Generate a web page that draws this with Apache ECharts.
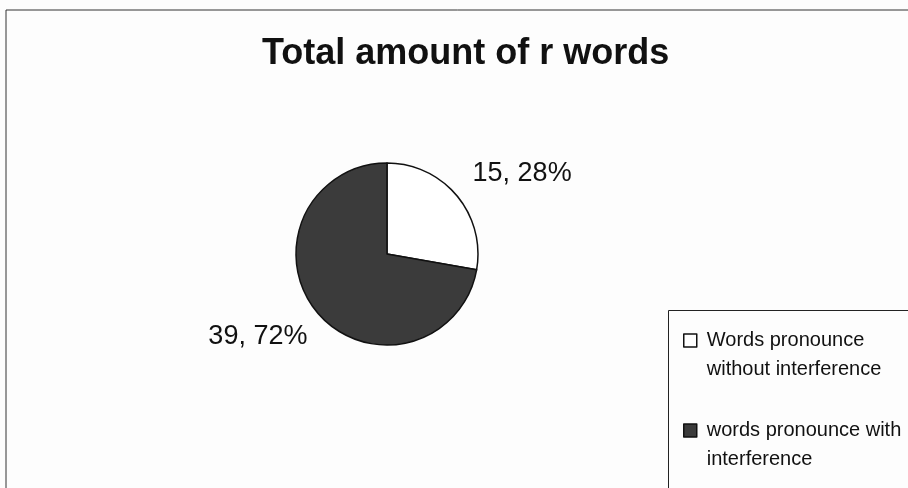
<!DOCTYPE html>
<html>
<head>
<meta charset="utf-8">
<script src="https://cdn.jsdelivr.net/npm/echarts@6/dist/echarts.min.js"></script>
<style>
  html, body { margin: 0; padding: 0; background: #fdfdfd; }
  #chart { width: 908px; height: 488px; }
</style>
</head>
<body>
<div id="chart"></div>
<script>
var categories = ['Words pronounce\nwithout interference', 'words pronounce with\ninterference'];
var values = [15, 39];
var colors = ['#ffffff', '#3b3b3b'];

var myChart = echarts.init(document.getElementById('chart'));

// nudges so the labels sit where the reference has them
var labelShift = [[-14, -8], [20, 10]];

var pieData = categories.map(function (name, i) {
    return {
        name: name,
        value: values[i],
        itemStyle: { color: colors[i] }
    };
});

myChart.setOption({
    backgroundColor: '#fdfdfd',
    animation: false,
    title: {
        text: 'Total amount of r words',
        left: 257,
        top: 31,
        textStyle: {
            fontFamily: 'Liberation Sans',
            fontSize: 36,
            fontWeight: 'bold',
            color: '#111'
        }
    },
    legend: {
        orient: 'vertical',
        left: 683,
        top: 297,
        padding: 0,
        itemGap: 3,
        itemWidth: 13,
        itemHeight: 13,
        icon: 'rect',
        data: categories,
        // leading blank line puts the first text line level with the icon
        formatter: function (name) { return '\n' + name; },
        textStyle: {
            fontFamily: 'Liberation Sans',
            fontSize: 20,
            lineHeight: 29,
            color: '#111',
            padding: [0, 0, 0, 5]
        },
        itemStyle: { borderColor: '#111', borderWidth: 1.5 }
    },
    graphic: [{
        type: 'rect',
        shape: { x: 6, y: 10, width: 920, height: 486 },
        style: { fill: 'none', stroke: '#333', lineWidth: 1 },
        silent: true,
        z: -1
    }, {
        type: 'rect',
        shape: { x: 668.5, y: 310.5, width: 260, height: 200 },
        style: { fill: '#fdfdfd', stroke: '#222', lineWidth: 1 },
        silent: true,
        z: -1
    }],
    series: [{
        type: 'pie',
        center: [387, 254],
        radius: 91,
        startAngle: 90,
        clockwise: true,
        data: pieData,
        itemStyle: { borderColor: '#111', borderWidth: 1.5 },
        label: {
            show: true,
            position: 'outside',
            formatter: function (p) { return p.value + ', ' + Math.round(p.percent) + '%'; },
            fontFamily: 'Liberation Sans',
            fontSize: 27,
            color: '#111'
        },
        labelLine: { show: false, length: 22, length2: 8 },
        labelLayout: function (params) {
            var s = labelShift[params.dataIndex];
            return { dx: s[0], dy: s[1] };
        },
        emphasis: { disabled: true }
    }]
});
</script>
</body>
</html>
